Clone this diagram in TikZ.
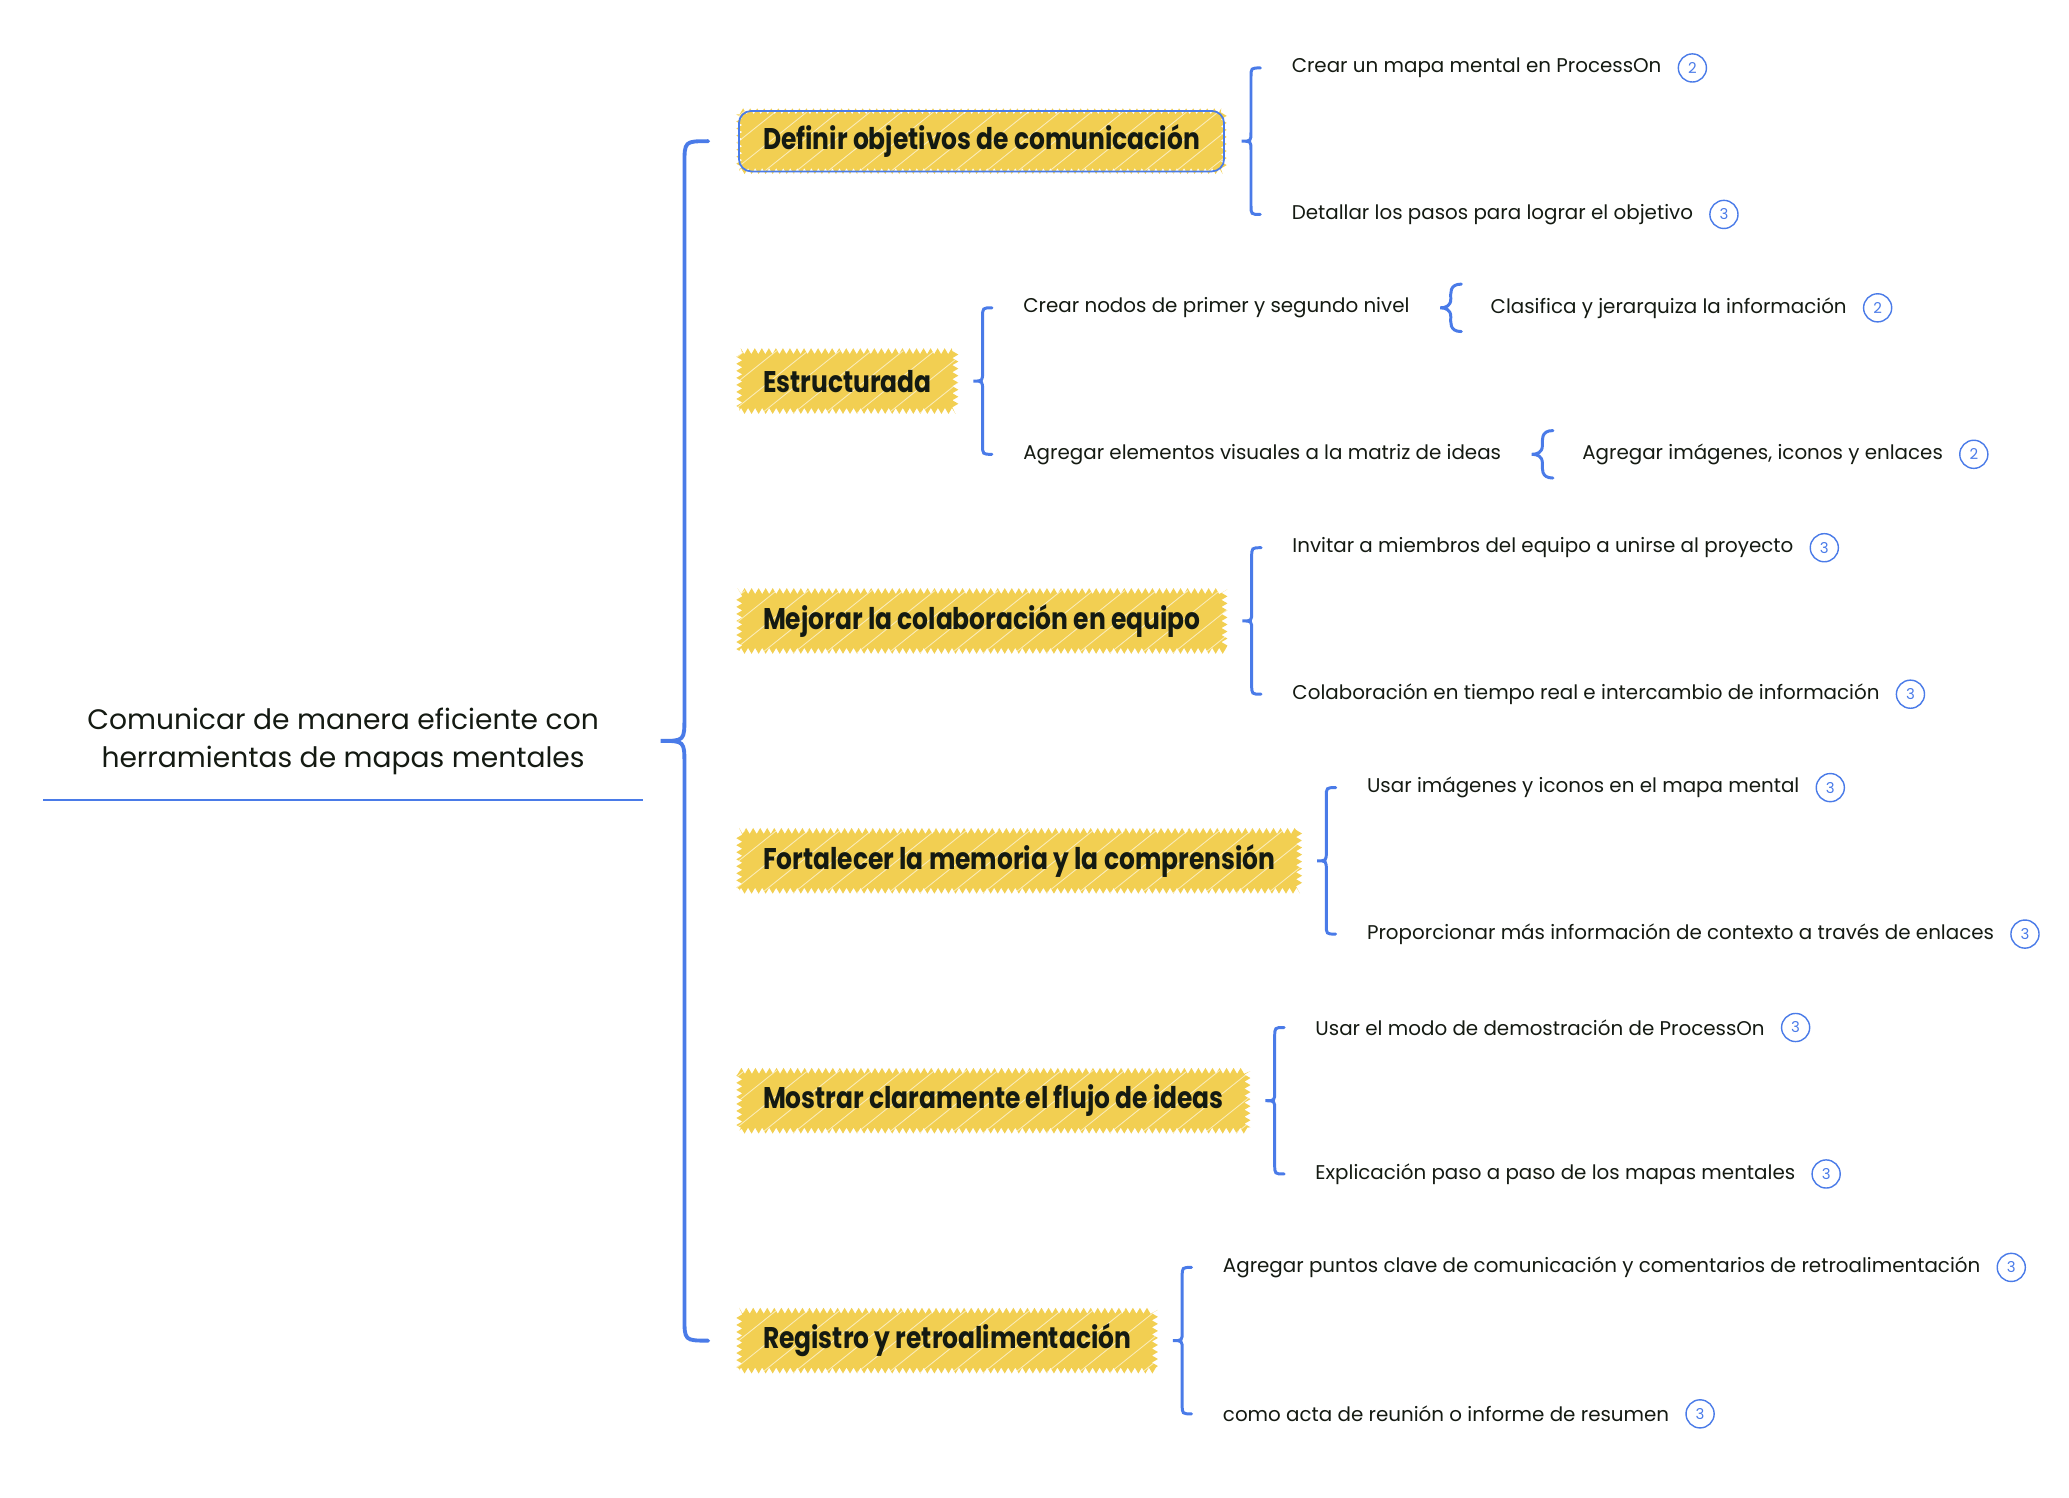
\documentclass[tikz,border=0pt]{standalone}
\usepackage{fontspec}
\setmainfont{Poppins}
\newfontfamily\headfont{Poppins}[FakeStretch=0.835]
\usepackage{tikz}
\usetikzlibrary{calc,positioning,decorations.pathmorphing}

\definecolor{mapblue}{HTML}{4A7BE8}
\definecolor{mapyellow}{HTML}{F2CF52}
\definecolor{mapink}{HTML}{141A12}

\tikzset{
  topic/.style = {anchor=west, fill=mapyellow, text=mapink, inner xsep=13.5pt, minimum height=34pt,
                  font=\headfont\bfseries\fontsize{17}{20}\selectfont,
                  decorate, decoration={zigzag, segment length=4pt, amplitude=1.7pt},
                  path picture={\foreach \k in {0,...,24}
                    \draw[white, line width=0.5pt, opacity=0.6]
                      ([xshift=\k*18pt-40pt]path picture bounding box.south west) -- ++(45pt,36pt);}},
  leaf/.style = {anchor=west, inner xsep=0pt, text=mapink, font=\fontsize{11.3}{14}\selectfont},
  badge/.style = {circle, draw=mapblue, line width=0.8pt, text=mapblue, minimum size=16pt,
                  inner sep=0pt, font=\fontsize{8.5}{9}\selectfont},
  link/.style = {draw=mapblue, line width=1.7pt, line cap=round},
  trunk/.style = {link, line width=2.2pt},
}

% brace from a parent to two children, #5 = half width of the brace
\newcommand{\brc}[5][link]{%
  \draw[#1] let \p1=($(#2.east)+(10pt,0)$), \p2=(#3.west), \p3=(#4.west),
      \p4=(\x1,{(\y2+\y3)/2}) in
    (\x1+2*#5,\y2) .. controls (\x1+#5,\y2) .. (\x1+#5,\y2-#5)
    -- (\x1+#5,\y4+#5) .. controls (\x1+#5,\y4) .. (\p4)
    .. controls (\x1+#5,\y4) .. (\x1+#5,\y4-#5)
    -- (\x1+#5,\y3+#5) .. controls (\x1+#5,\y3) .. (\x1+2*#5,\y3);}

% small brace in front of a single child
\newcommand{\sbrc}[2]{%
  \draw[link] let \p1=($(#1.east)+(17.3pt,0)$), \p2=(#2.west) in
    (\x1+12pt,\y2+13.5pt) .. controls (\x1+5pt,\y2+13.5pt) and (\x1+6pt,\y2+8pt) .. (\x1+6pt,\y2+5pt)
    .. controls (\x1+6pt,\y2+1pt) and (\x1+3pt,\y2) .. (\x1,\y2)
    .. controls (\x1+3pt,\y2) and (\x1+6pt,\y2-1pt) .. (\x1+6pt,\y2-5pt)
    .. controls (\x1+6pt,\y2-8pt) and (\x1+5pt,\y2-13.5pt) .. (\x1+12pt,\y2-13.5pt);}

\begin{document}
\begin{tikzpicture}[x=0.02639cm, y=-0.02639cm]
  \useasboundingbox (0,0) rectangle (1568,1135);

  % central topic
  \node[align=center, minimum width=341pt, minimum height=66pt, text=mapink,
        font=\fontsize{16}{21.8}\selectfont] (root) at (260,562)
        {Comunicar de manera eficiente con\\herramientas de mapas mentales};
  \draw[mapblue, line width=1pt] (root.south west) -- (root.south east);

  % main topics
  \foreach \t [count=\i] in {Definir objetivos de comunicación, Estructurada,
      Mejorar la colaboración en equipo, Fortalecer la memoria y la comprensión,
      Mostrar claramente el flujo de ideas, Registro y retroalimentación}
    {\pgfmathsetmacro{\ypos}{107+181.8*(\i-1)}
     \node[topic] (b\i) at (560,\ypos) {\t};}
  \draw[mapblue, line width=1pt, rounded corners=7pt] (b1.south west) rectangle (b1.north east);
  \brc[trunk]{root}{b1}{b6}{13.5pt}

  % subtopics with a badge
  \foreach \i/\ta/\na/\tb/\nb in {
      1/Crear un mapa mental en ProcessOn/2/Detallar los pasos para lograr el objetivo/3,
      3/Invitar a miembros del equipo a unirse al proyecto/3/Colaboración en tiempo real e intercambio de información/3,
      4/Usar imágenes y iconos en el mapa mental/3/Proporcionar más información de contexto a través de enlaces/3,
      5/Usar el modo de demostración de ProcessOn/3/Explicación paso a paso de los mapas mentales/3,
      6/Agregar puntos clave de comunicación y comentarios de retroalimentación/3/como acta de reunión o informe de resumen/3}
    {\node[leaf] (c\i1) at ($(b\i.east)+(51,-55.5)$) {\ta};
     \node[leaf] (c\i2) at ($(b\i.east)+(51,55.5)$) {\tb};
     \node[badge, right=9pt of c\i1] (n\i1) {\na};
     \node[badge, right=9pt of c\i2] (n\i2) {\nb};
     \brc{b\i}{c\i1}{c\i2}{5.3pt}}

  % Estructurada
  \node[leaf] (c21) at ($(b2.east)+(51,-55.5)$) {Crear nodos de primer y segundo nivel};
  \node[leaf] (c22) at ($(b2.east)+(51,55.5)$) {Agregar elementos visuales a la matriz de ideas};
  \brc{b2}{c21}{c22}{5.3pt}
  \node[leaf, right=45.8pt of c21] (g21) {Clasifica y jerarquiza la información};
  \node[leaf, right=45.8pt of c22] (g22) {Agregar imágenes, iconos y enlaces};
  \node[badge, right=9pt of g21] (m21) {2};
  \node[badge, right=9pt of g22] (m22) {2};
  \sbrc{c21}{g21}
  \sbrc{c22}{g22}
\end{tikzpicture}
\end{document}
